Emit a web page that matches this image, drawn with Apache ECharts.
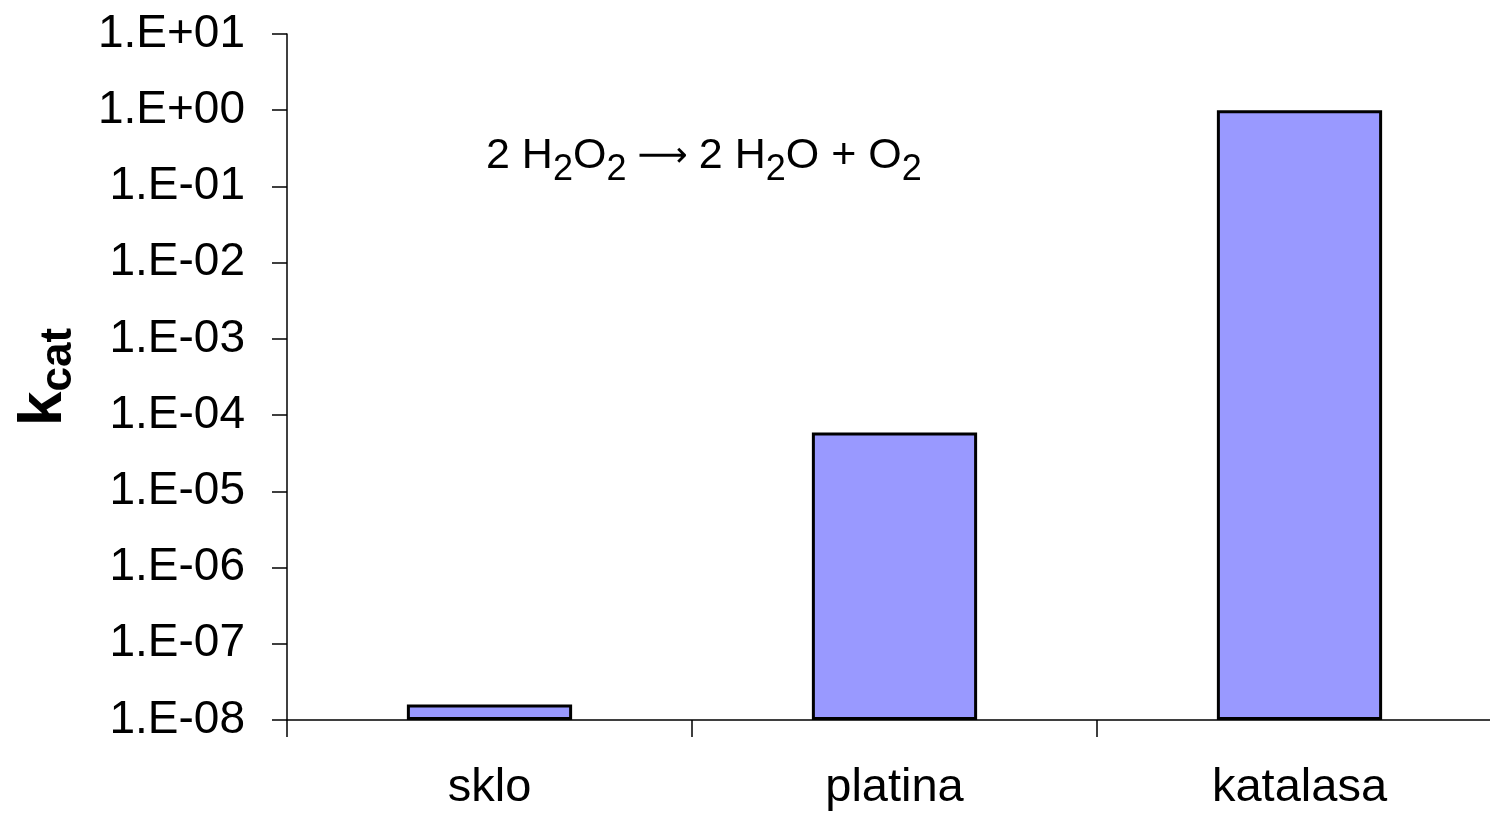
<!DOCTYPE html>
<html>
<head>
<meta charset="utf-8">
<script src="https://cdn.jsdelivr.net/npm/echarts@6/dist/echarts.min.js"></script>
<style>
html,body{margin:0;padding:0;background:#fff;overflow:hidden;}
#c{width:1502px;height:818px;}
</style>
</head>
<body>
<div id="c"></div>
<script>
var categories = ['sklo', 'platina', 'katalasa'];
var kcatValues = [1.6e-8, 5.9e-5, 1.0];
var yMinExp = -8, yMaxExp = 1;   // axis from 1.E-08 to 1.E+01 (log10 scale)

// bars are drawn on decades above the axis floor (1.E-08) so they rise from the bottom
function toAxis(v) { return Math.log10(v) - yMinExp; }
function fmt(d) {
  var e = Math.round(d + yMinExp);
  var s = e < 0 ? '-' : '+';
  var a = Math.abs(e);
  return '1.E' + s + (a < 10 ? '0' + a : a);
}

var chart = echarts.init(document.getElementById('c'));
var FONT = '"Liberation Sans", Arial, sans-serif';
chart.setOption({
  animation: false,
  backgroundColor: '#fff',
  grid: {left: 287, right: 0, top: 34, bottom: 98, containLabel: false},
  xAxis: {
    type: 'category',
    data: categories,
    axisLine: {onZero: false, lineStyle: {color: '#000', width: 1.5}},
    axisTick: {show: true, length: 17, lineStyle: {color: '#000', width: 1.5}},
    axisLabel: {color: '#000', fontSize: 47, fontFamily: FONT, margin: 45}
  },
  yAxis: {
    type: 'value',
    min: 0,
    max: yMaxExp - yMinExp,
    interval: 1,
    splitLine: {show: false},
    axisLine: {show: true, lineStyle: {color: '#000', width: 1.5}},
    axisTick: {show: true, length: 15, lineStyle: {color: '#000', width: 1.5}},
    axisLabel: {color: '#000', fontSize: 46, fontFamily: FONT, margin: 42, formatter: fmt},
    name: '{k|k}{sub|cat}',
    nameLocation: 'middle',
    nameRotate: 90,
    nameGap: 212,
    nameTextStyle: {
      rich: {
        k: {fontSize: 62, fontWeight: 'bold', fontFamily: FONT, color: '#000', lineHeight: 62, verticalAlign: 'top'},
        sub: {fontSize: 44, fontWeight: 'bold', fontFamily: FONT, color: '#000', lineHeight: 62, verticalAlign: 'top', padding: [24, 0, 0, 0]}
      }
    }
  },
  series: [{
    type: 'bar',
    data: kcatValues.map(toAxis),
    barWidth: '40.8%',
    itemStyle: {color: '#9999FF', borderColor: '#000', borderWidth: 3}
  }],
  graphic: [{
    type: 'text',
    left: 486,
    top: 135,
    z: 100,
    style: {
      text: '{n|2 H}{s|2}{n|O}{s|2}{a| \u27F6 }{n|2 H}{s|2}{n|O + O}{s|2}',
      rich: {
        n: {fontSize: 43, fontFamily: FONT, fill: '#000', lineHeight: 46, verticalAlign: 'top'},
        a: {fontSize: 35, fontFamily: '"DejaVu Sans", sans-serif', fill: '#000', lineHeight: 46, verticalAlign: 'top', padding: [4, 0, 0, 0]},
        s: {fontSize: 36, fontFamily: FONT, fill: '#000', lineHeight: 46, verticalAlign: 'top', padding: [17, 0, 0, 0]}
      }
    }
  }]
});
</script>
</body>
</html>
